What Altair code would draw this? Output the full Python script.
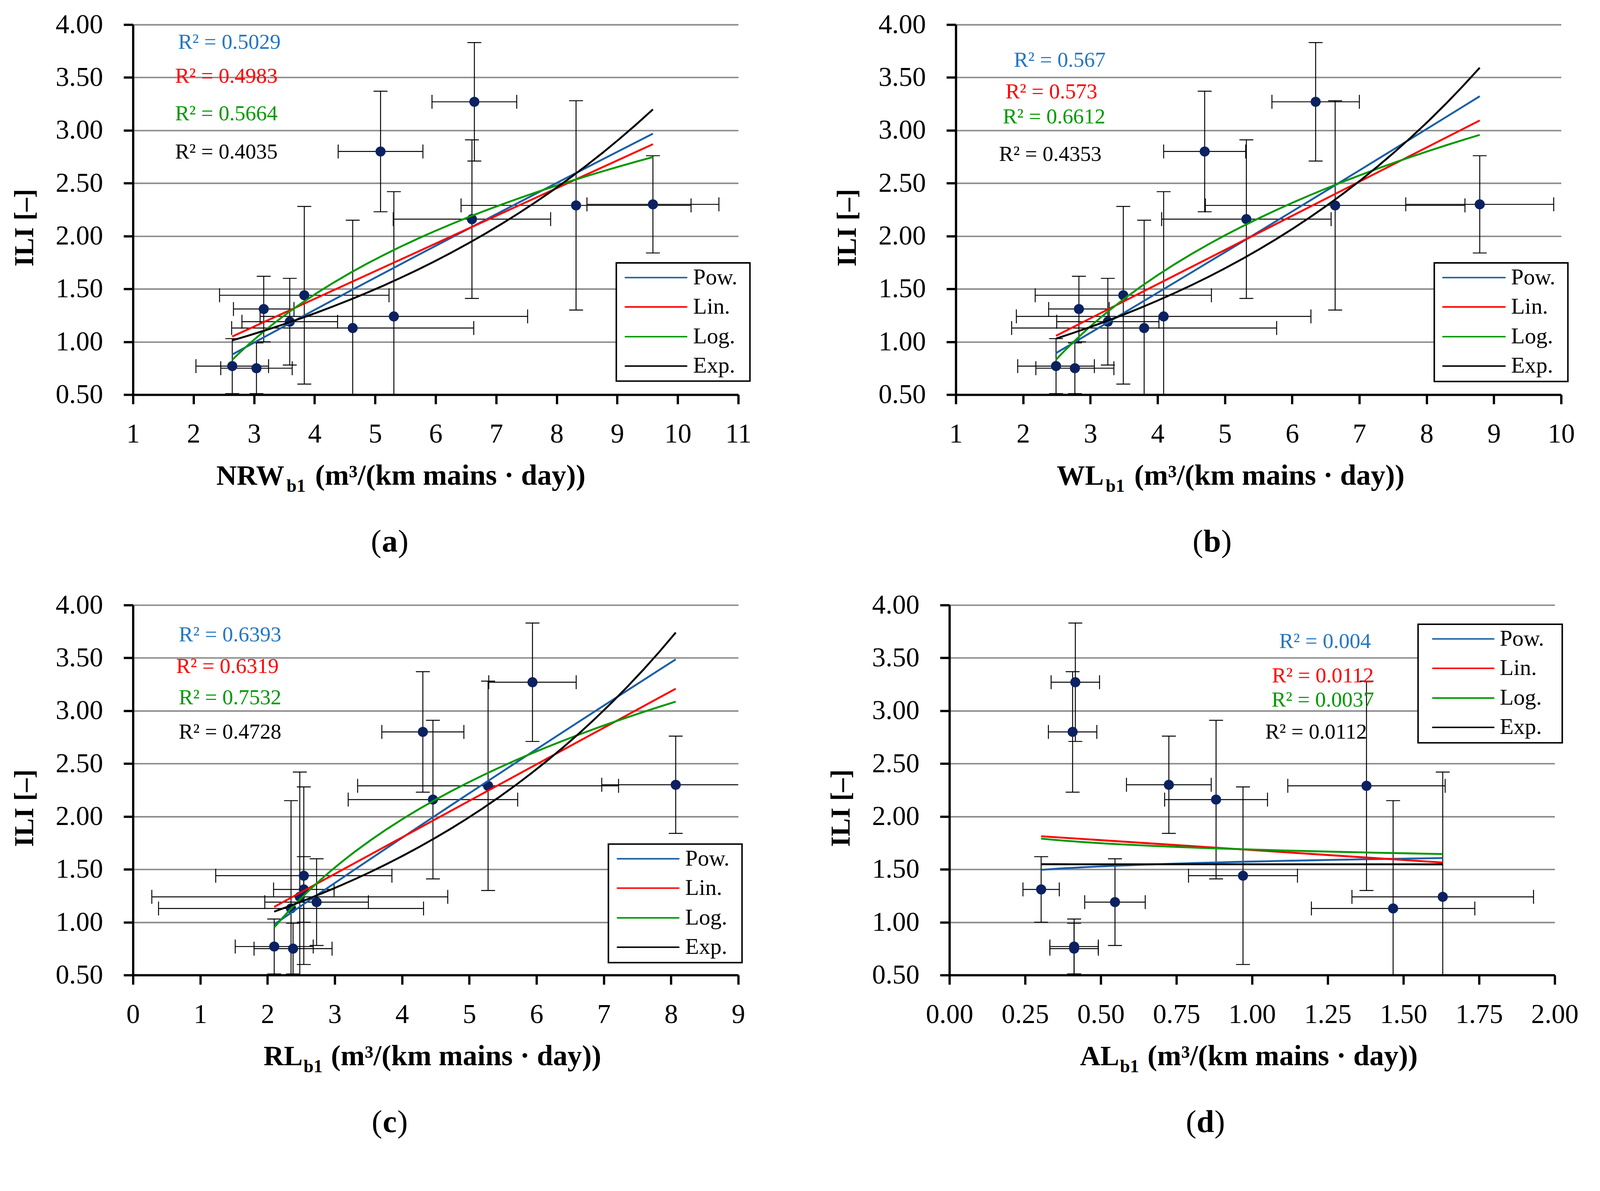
import altair as alt
import pandas as pd

# ---------------- data ----------------
ILI = [0.77, 0.75, 1.31, 1.19, 1.44, 1.13, 1.24, 2.80, 3.27, 2.16, 2.29, 2.30]
ILI_ERR = [0.26, 0.24, 0.31, 0.41, 0.84, 1.02, 1.18, 0.57, 0.56, 0.75, 0.99, 0.46]

NRW_X = [2.64, 3.04, 3.16, 3.59, 3.83, 4.63, 5.31, 5.09, 6.64, 6.60, 8.32, 9.59]
NRW_ERR = [0.60, 0.59, 0.50, 0.79, 1.40, 2.00, 2.21, 0.70, 0.70, 1.30, 1.90, 1.09]

WL_X = [2.49, 2.77, 2.83, 3.26, 3.49, 3.80, 4.09, 4.70, 6.35, 5.32, 6.64, 8.79]
WL_ERR = [0.57, 0.58, 0.45, 0.76, 1.31, 1.97, 2.19, 0.61, 0.65, 1.26, 1.93, 1.10]

RL_X = [2.10, 2.38, 2.54, 2.73, 2.54, 2.35, 2.48, 4.31, 5.94, 4.46, 5.28, 8.07]
RL_ERR = [0.58, 0.58, 0.45, 0.77, 1.31, 1.97, 2.20, 0.61, 0.65, 1.26, 1.94, 1.10]

AL_X = [0.412, 0.412, 0.303, 0.547, 0.970, 1.466, 1.630, 0.407, 0.416, 0.881, 1.378, 0.725]
AL_ERR = [0.08, 0.08, 0.06, 0.10, 0.18, 0.27, 0.30, 0.08, 0.08, 0.17, 0.26, 0.14]

TREND_NAMES = ["Pow.", "Lin.", "Log.", "Exp."]
TREND_METHODS = ["pow", "linear", "log", "exp"]
R2_A = ["0.5029", "0.4983", "0.5664", "0.4035"]
R2_B = ["0.567", "0.573", "0.6612", "0.4353"]
R2_C = ["0.6393", "0.6319", "0.7532", "0.4728"]
R2_D = ["0.004", "0.0112", "0.0037", "0.0112"]

Y_TICKS = [0.5, 1.0, 1.5, 2.0, 2.5, 3.0, 3.5, 4.0]

# ---------------- style ----------------
FONT = "Liberation Serif"
PW, PH = 1608, 983
LINE_COLORS = ["#1B5FA6", "#FF0000", "#009900", "#000000"]
TEXT_COLORS = ["#2677C2", "#FF0000", "#009900", "#000000"]
POINT_COLOR = "#0B2161"


def txt(s, x, y, size, color="black", weight="normal", align="left", baseline="alphabetic"):
    return alt.Chart(pd.DataFrame({"t": [s]})).mark_text(
        font=FONT, fontSize=size, fontWeight=weight, color=color,
        align=align, baseline=baseline,
    ).encode(x=alt.value(x), y=alt.value(y), text="t:N")


def panel(xv, xe, xdomain, xticks, xfmt, r2vals, r2pos, leg, xtitle, letter):
    df = pd.DataFrame({"x": xv, "xe": xe, "y": ILI, "ye": ILI_ERR})
    xs = alt.Scale(domain=xdomain, nice=False, zero=False)
    ys = alt.Scale(domain=[0.5, 4.0], nice=False, zero=False)
    xax = alt.Axis(values=xticks, format=xfmt, title=None, grid=False,
                   domainColor="black", domainWidth=6, tickColor="black", tickWidth=6,
                   tickSize=25, labelFont=FONT, labelFontSize=72, labelColor="black",
                   labelPadding=45, labelFlush=False, labelOverlap=False)
    yax = alt.Axis(values=Y_TICKS, format=".2f", title="ILI [–]", grid=True,
                   gridColor="#8c8c8c", gridWidth=4,
                   domainColor="black", domainWidth=6, tickColor="black", tickWidth=6,
                   tickSize=25, labelFont=FONT, labelFontSize=72, labelColor="black",
                   labelPadding=55, labelFlush=False, labelOverlap=False,
                   titleFont=FONT, titleFontSize=72, titleFontWeight="bold",
                   titleColor="black", titleX=-266, titleY=539, titleAngle=-90,
                   titleBaseline="alphabetic", titleAlign="center")

    base = alt.Chart(df).transform_calculate(
        xlo="datum.x - datum.xe", xhi="datum.x + datum.xe",
        ylo="datum.y - datum.ye", yhi="datum.y + datum.ye",
    )
    X = lambda f: alt.X(f + ":Q", scale=xs, axis=xax)
    Y = lambda f: alt.Y(f + ":Q", scale=ys, axis=yax)

    layers = []
    # error bars
    layers.append(base.mark_rule(color="black", strokeWidth=2.5, clip=True).encode(
        x=X("xlo"), x2="xhi:Q", y=Y("y")))
    layers.append(base.mark_rule(color="black", strokeWidth=2.5, clip=True).encode(
        x=X("x"), y=Y("ylo"), y2="yhi:Q"))
    for f in ["xlo", "xhi"]:
        layers.append(base.mark_tick(orient="vertical", size=37, thickness=2.5,
                                     color="black", clip=True, opacity=1).encode(
            x=X(f), y=Y("y")))
    for f in ["ylo", "yhi"]:
        layers.append(base.mark_tick(orient="horizontal", size=37, thickness=2.5,
                                     color="black", clip=True, opacity=1).encode(
            x=X("x"), y=Y(f)))
    # points
    layers.append(base.mark_point(shape="circle", filled=True, size=720, opacity=1,
                                  color=POINT_COLOR).encode(x=X("x"), y=Y("y")))
    # trend lines (Excel style: exponential fitted on ln(y))
    for m, c in zip(TREND_METHODS, LINE_COLORS):
        if m == "exp":
            ch = (alt.Chart(df)
                  .transform_calculate(ly="log(datum.y)")
                  .transform_regression("x", "ly", method="poly", order=1)
                  .transform_calculate(yf="exp(datum.ly)")
                  .mark_line(color=c, strokeWidth=5, clip=True)
                  .encode(x=X("x"), y=Y("yf")))
        else:
            ch = (alt.Chart(df).transform_regression("x", "y", method=m)
                  .mark_line(color=c, strokeWidth=5, clip=True)
                  .encode(x=X("x"), y=Y("y")))
        layers.append(ch)
    # R² annotations
    for v, c, (px, py) in zip(r2vals, TEXT_COLORS, r2pos):
        layers.append(txt("R² = " + v, px, py, 57, color=c, align="center", baseline="middle"))
    # legend
    bx, by, bw, bh, l0, l1, lt = leg
    layers.append(alt.Chart(pd.DataFrame({"a": [0]})).mark_rect(
        fill="white", stroke="black", strokeWidth=4).encode(
        x=alt.value(bx), x2=alt.value(bx + bw), y=alt.value(by), y2=alt.value(by + bh)))
    for i, (name, c) in enumerate(zip(TREND_NAMES, LINE_COLORS)):
        ry = by + [39, 117, 196, 274][i]
        layers.append(alt.Chart(pd.DataFrame({"a": [0]})).mark_rule(
            color=c, strokeWidth=4, strokeCap="round").encode(
            x=alt.value(bx + l0), x2=alt.value(bx + l1), y=alt.value(ry)))
        layers.append(txt(name, bx + lt, ry, 60, baseline="middle"))
    # x-axis title with subscript
    main, mr, sl, rl = xtitle
    layers.append(txt(main, mr, 1222, 75, weight="bold", align="right"))
    layers.append(txt("b1", sl, 1241, 48, weight="bold", align="left"))
    layers.append(txt("(m³/(km mains · day))", rl, 1222, 77, weight="bold", align="left"))
    # panel letter
    ch, cx, hw = letter
    layers.append(txt("(", cx - hw, 1400, 84, align="right"))
    layers.append(txt(ch, cx, 1400, 84, weight="bold", align="center"))
    layers.append(txt(")", cx + hw, 1400, 84, align="left"))

    return alt.layer(*layers).properties(width=PW, height=PH)


pa = panel(NRW_X, NRW_ERR, [1, 11], list(range(1, 12)), "d", R2_A,
           [(256, 47), (248, 138), (248, 237), (248, 339)],
           (1284, 633, 355, 314, 24, 187, 204), ("NRW", 402, 408, 484), ("a", 682, 22))
pb = panel(WL_X, WL_ERR, [1, 10], list(range(1, 11)), "d", R2_B,
           [(276, 95), (254, 179), (261, 246), (251, 345)],
           (1271, 633, 355, 315, 23, 188, 204), ("WL", 393, 398, 474), ("b", 681, 24))
pc = panel(RL_X, RL_ERR, [0, 9], list(range(0, 10)), "d", R2_C,
           [(258, 80), (251, 164), (258, 247), (258, 338)],
           (1263, 635, 355, 315, 24, 187, 204), ("RL", 451, 453, 526), ("c", 682, 20))
pd_ = panel(AL_X, AL_ERR, [0, 2], [0, 0.25, 0.5, 0.75, 1.0, 1.25, 1.5, 1.75, 2.0], ".2f", R2_D,
            [(998, 97), (992, 189), (992, 253), (974, 338)],
            (1245, 51, 383, 315, 39, 201, 217), ("AL", 451, 453, 526), ("d", 680, 24))

chart = alt.vconcat(
    alt.hconcat(pa, pb, spacing=219),
    alt.hconcat(pc, pd_, spacing=219),
    spacing=89,
).properties(
    padding={"left": 21, "top": -35, "right": 49, "bottom": 14},
    background="white",
).configure_view(stroke=None)

chart.save("out.html", embed_options={"renderer": "svg", "actions": False})
